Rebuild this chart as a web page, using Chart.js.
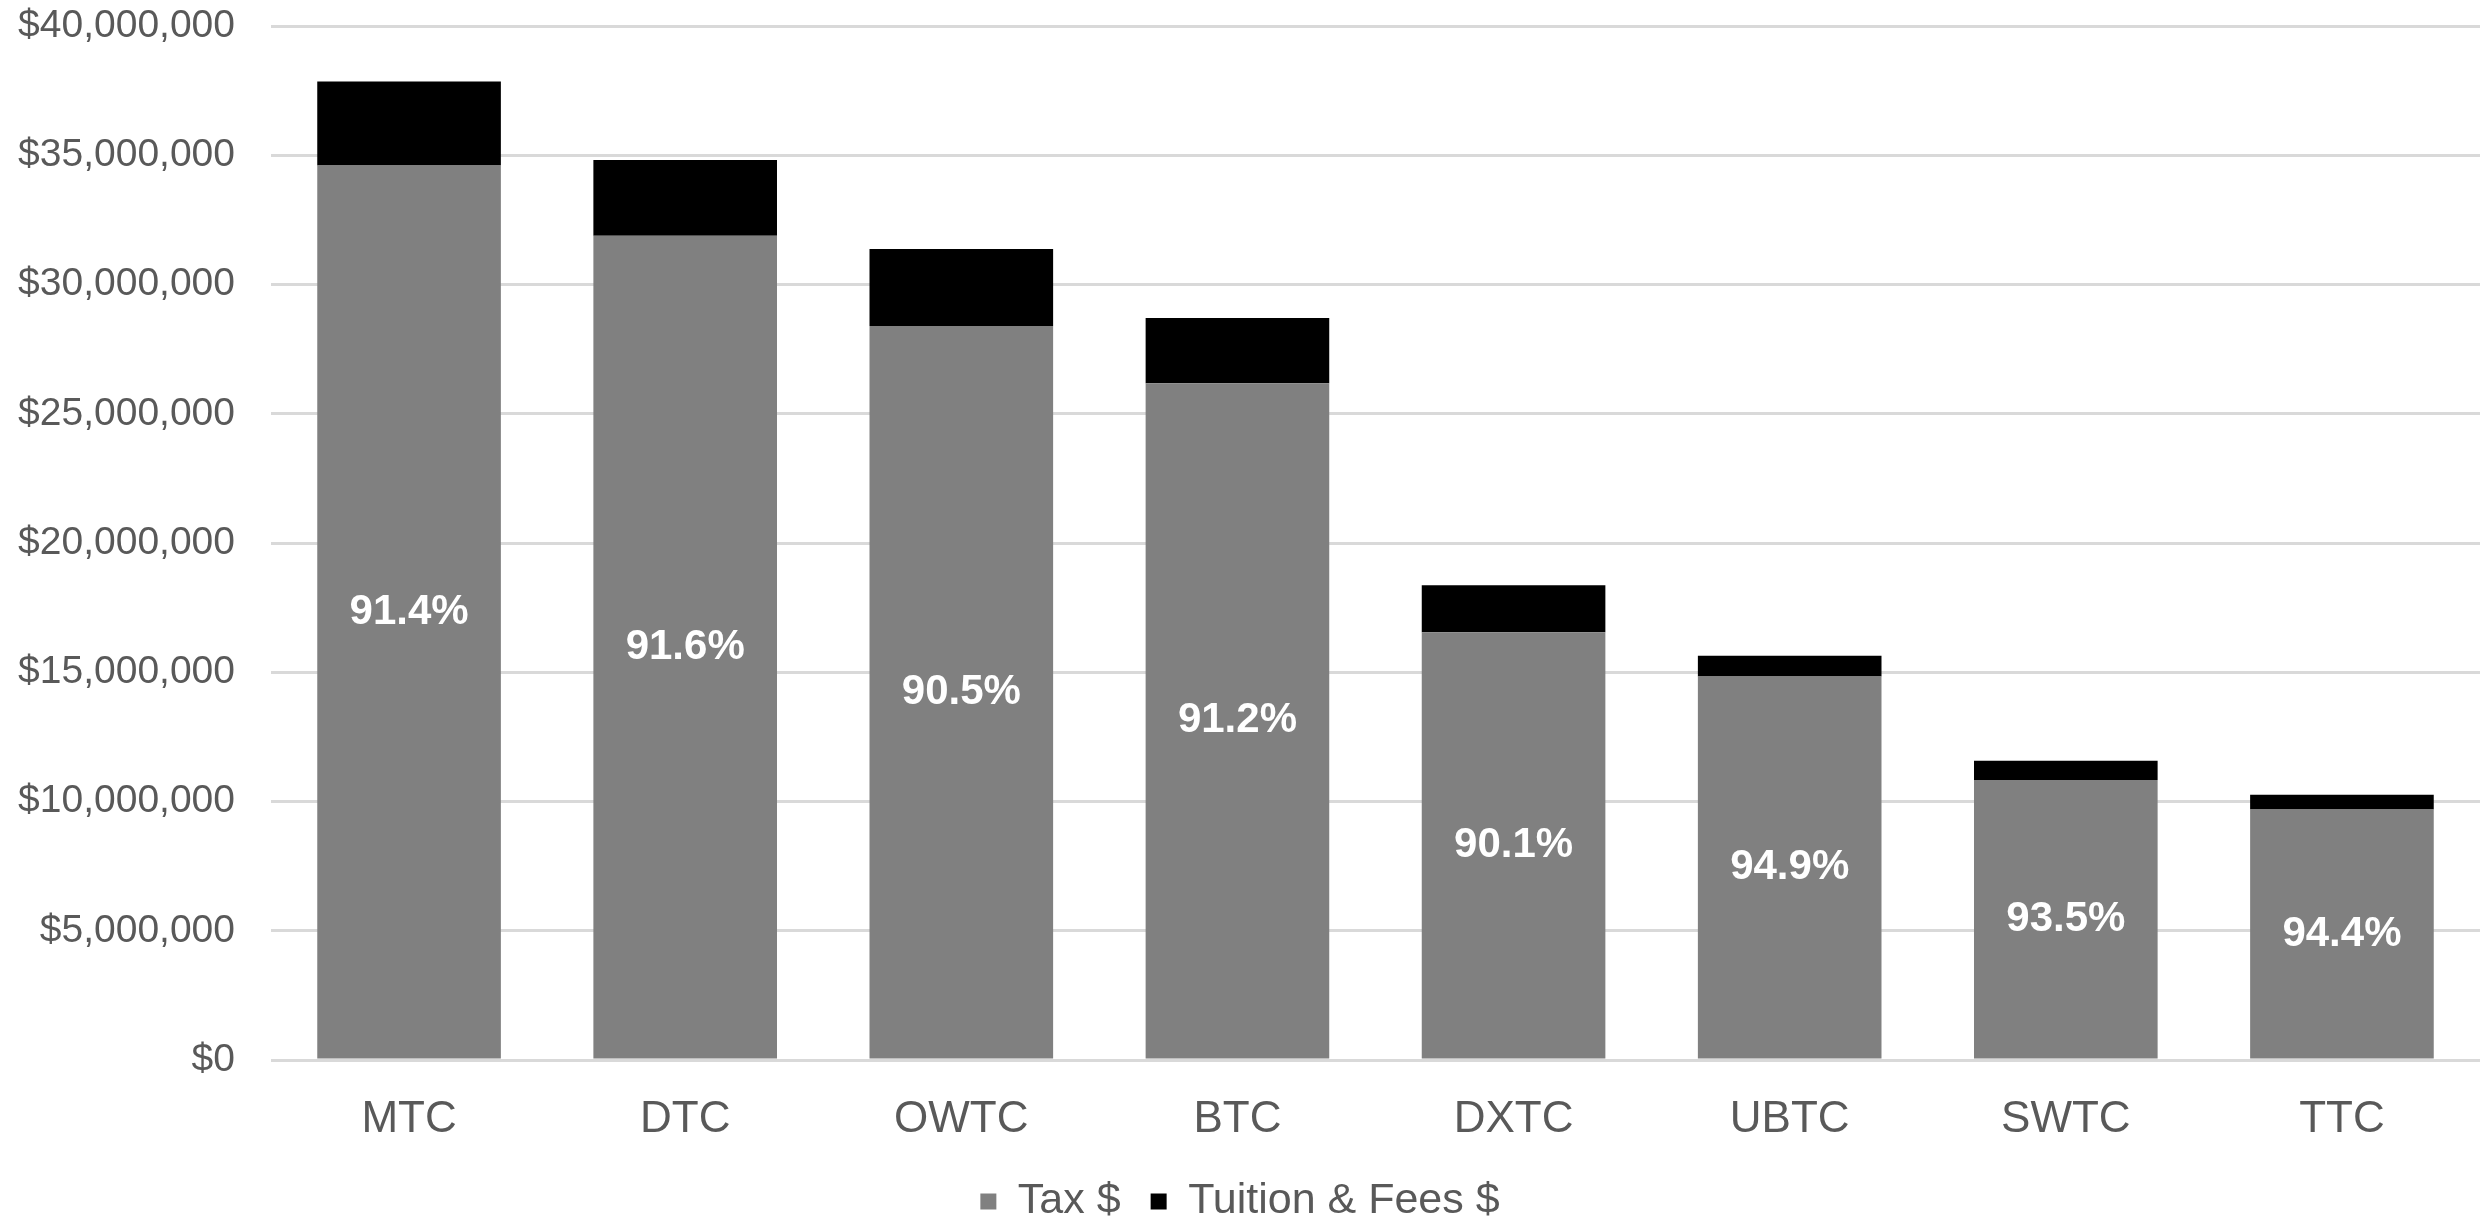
<!DOCTYPE html>
<html>
<head>
<meta charset="utf-8">
<script src="https://cdn.jsdelivr.net/npm/chart.js@4.4.1/dist/chart.umd.min.js"></script>
<style>
  html, body { margin: 0; padding: 0; background: #ffffff; }
  #wrap { width: 2492px; height: 1220px; }
</style>
</head>
<body>
<div id="wrap"><canvas id="c" width="2492" height="1220"></canvas></div>
<script>
// ---- Data ----
const categories = ['MTC', 'DTC', 'OWTC', 'BTC', 'DXTC', 'UBTC', 'SWTC', 'TTC'];
const taxDollars = [34600000, 31890000, 28390000, 26180000, 16550000, 14840000, 10830000, 9690000];
const tuitionDollars = [3250000, 2930000, 2980000, 2520000, 1820000, 800000, 750000, 570000];
const taxSharePct = [91.4, 91.6, 90.5, 91.2, 90.1, 94.9, 93.5, 94.4];
const seriesNames = ['Tax $', 'Tuition & Fees $'];
const yMin = 0, yMax = 40000000, yStep = 5000000;

const FONT = 'Arial, "Liberation Sans", sans-serif';
Chart.defaults.font.family = FONT;
Chart.defaults.color = '#595959';

const shareLabels = {
  id: 'shareLabels',
  afterDatasetsDraw(chart) {
    const ctx = chart.ctx;
    const meta = chart.getDatasetMeta(0);
    ctx.save();
    ctx.fillStyle = '#ffffff';
    ctx.font = 'bold 42px ' + FONT;
    ctx.textAlign = 'center';
    ctx.textBaseline = 'middle';
    meta.data.forEach((bar, i) => {
      const p = bar.getProps(['x', 'y', 'base'], true);
      ctx.fillText(taxSharePct[i].toFixed(1) + '%', p.x, (p.y + p.base) / 2);
    });
    ctx.restore();
  }
};

new Chart(document.getElementById('c'), {
  type: 'bar',
  data: {
    labels: categories,
    datasets: [
      { label: seriesNames[0], data: taxDollars, backgroundColor: '#808080', borderWidth: 0 },
      { label: seriesNames[1], data: tuitionDollars, backgroundColor: '#000000', borderWidth: 0 }
    ]
  },
  options: {
    responsive: false,
    devicePixelRatio: 1,
    animation: false,
    layout: { padding: { left: 0, right: 12, top: 26, bottom: -13 } },
    datasets: { bar: { categoryPercentage: 0.665, barPercentage: 1.0 } },
    scales: {
      x: {
        stacked: true,
        grid: { display: false, drawTicks: false },
        border: { display: false },
        ticks: { font: { size: 44 }, color: '#595959', padding: 33 },
        afterFit(scale) { scale.height = 90; scale.paddingLeft = 0; scale.paddingRight = 0; }
      },
      y: {
        stacked: true,
        min: yMin, max: yMax,
        grid: { color: '#d9d9d9', lineWidth: 3, drawTicks: false },
        border: { display: false },
        ticks: {
          stepSize: yStep,
          font: { size: 39 },
          color: '#595959',
          padding: 36,
          callback: (v) => '$' + Number(v).toLocaleString('en-US')
        },
        afterFit(scale) { scale.width = 271; scale.paddingTop = 0; scale.paddingBottom = 0; }
      }
    },
    plugins: {
      legend: {
        position: 'bottom',
        labels: { boxWidth: 16, boxHeight: 16, padding: 30, font: { size: 43 }, color: '#595959' }
      },
      tooltip: { enabled: false }
    }
  },
  plugins: [shareLabels]
});
</script>
</body>
</html>
